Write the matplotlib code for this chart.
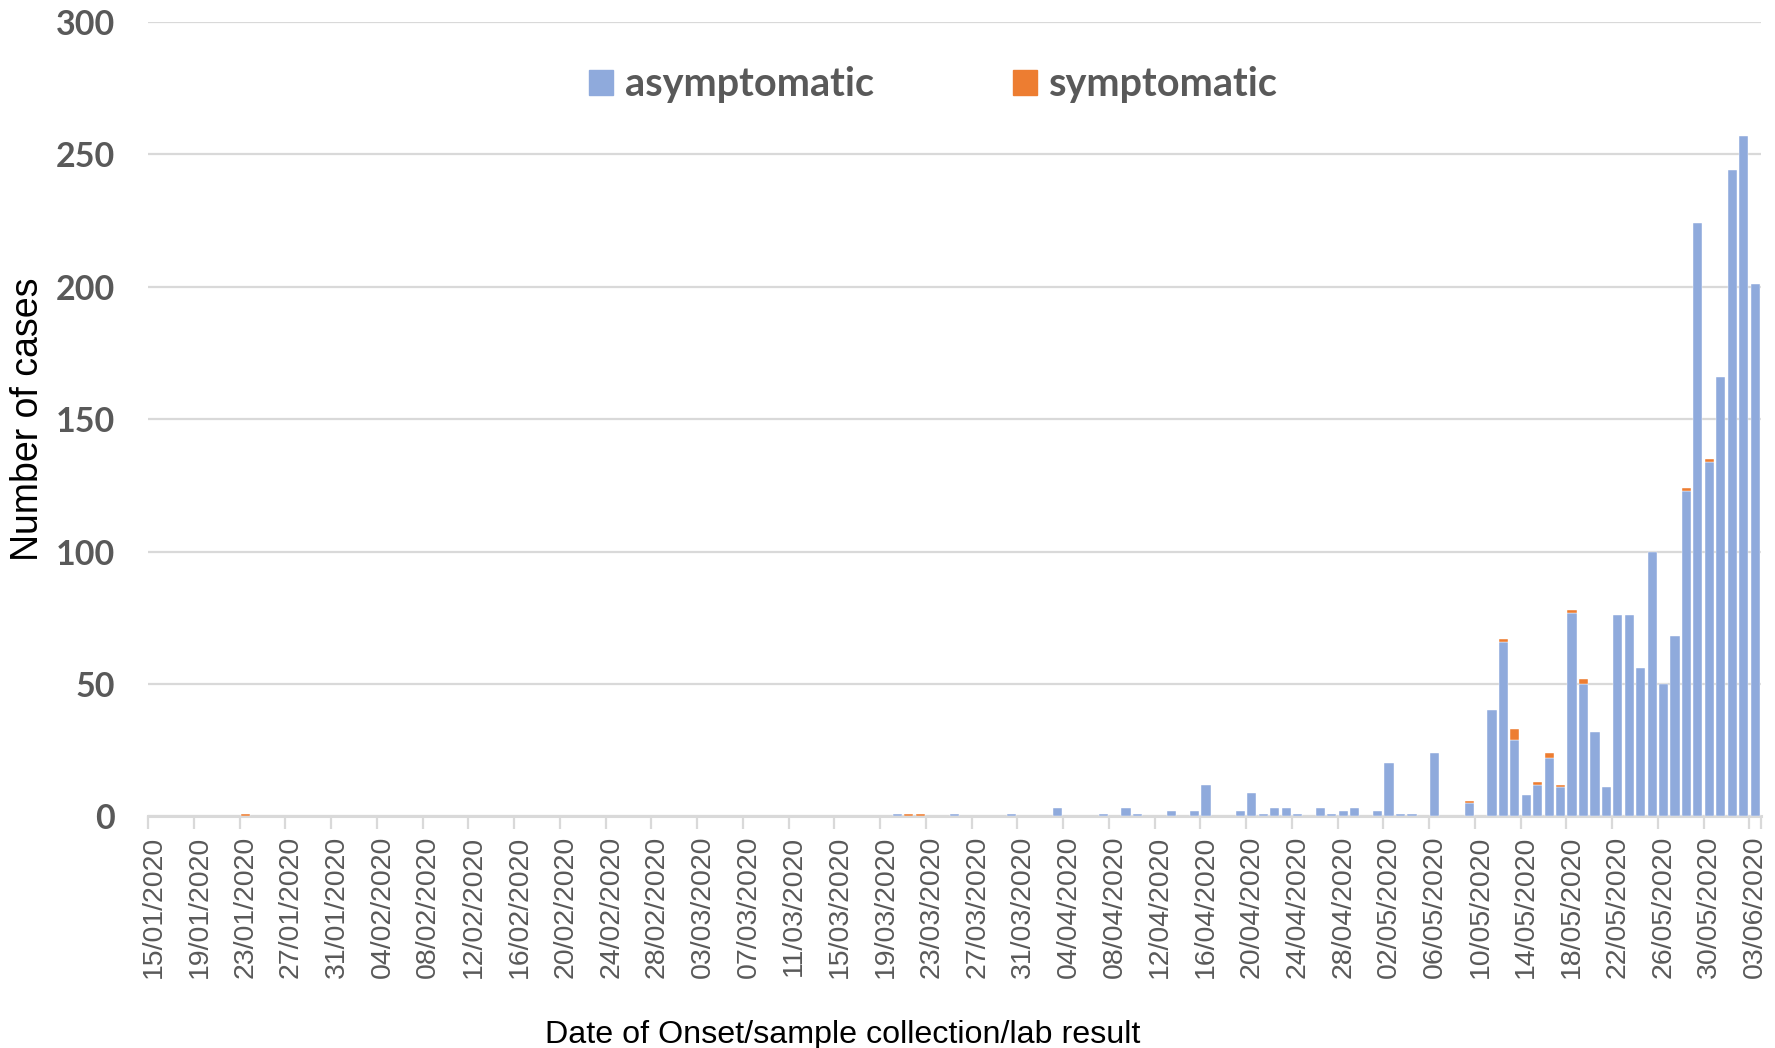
import numpy as np
import pandas as pd
import matplotlib
matplotlib.use('Agg')
import matplotlib.pyplot as plt
from matplotlib.patches import Patch

# one bar per day, 15/01/2020 .. 03/06/2020
dates = pd.date_range('2020-01-15', '2020-06-03', freq='D')

jan_asym = [0, 0, 0, 0, 0, 0, 0, 0, 0, 0, 0, 0, 0, 0, 0, 0, 0]
jan_sym  = [0, 0, 0, 0, 0, 0, 0, 0, 1, 0, 0, 0, 0, 0, 0, 0, 0]
feb_asym = [0, 0, 0, 0, 0, 0, 0, 0, 0, 0, 0, 0, 0, 0, 0, 0, 0, 0, 0, 0,
            0, 0, 0, 0, 0, 0, 0, 0, 0]
feb_sym  = [0, 0, 0, 0, 0, 0, 0, 0, 0, 0, 0, 0, 0, 0, 0, 0, 0, 0, 0, 0,
            0, 0, 0, 0, 0, 0, 0, 0, 0]
mar_asym = [0, 0, 0, 0, 0, 0, 0, 0, 0, 0, 0, 0, 0, 0, 0, 0, 0, 0, 0, 1,
            0, 0, 0, 0, 1, 0, 0, 0, 0, 1, 0]
mar_sym  = [0, 0, 0, 0, 0, 0, 0, 0, 0, 0, 0, 0, 0, 0, 0, 0, 0, 0, 0, 0,
            1, 1, 0, 0, 0, 0, 0, 0, 0, 0, 0]
apr_asym = [0, 0, 3, 0, 0, 0, 1, 0, 3, 1, 0, 0, 2, 0, 2, 12, 0, 0, 2, 9,
            1, 3, 3, 1, 0, 3, 1, 2, 3, 0]
apr_sym  = [0, 0, 0, 0, 0, 0, 0, 0, 0, 0, 0, 0, 0, 0, 0, 0, 0, 0, 0, 0,
            0, 0, 0, 0, 0, 0, 0, 0, 0, 0]
may_asym = [2, 20, 1, 1, 0, 24, 0, 0, 5, 0, 40, 66, 29, 8, 12, 22, 11, 77, 50, 32,
            11, 76, 76, 56, 100, 50, 68, 123, 224, 134, 166]
may_sym  = [0, 0, 0, 0, 0, 0, 0, 0, 1, 0, 0, 1, 4, 0, 1, 2, 1, 1, 2, 0,
            0, 0, 0, 0, 0, 0, 0, 1, 0, 1, 0]
jun_asym = [244, 257, 201]
jun_sym  = [0, 0, 0]

asym = np.array(jan_asym + feb_asym + mar_asym + apr_asym + may_asym + jun_asym)
sym = np.array(jan_sym + feb_sym + mar_sym + apr_sym + may_sym + jun_sym)

blue = '#8FAADC'
orange = '#ED7D31'
grey_txt = '#595959'
grey_line = '#D9D9D9'

fig = plt.figure(figsize=(17.75, 10.48), dpi=100)
ax = fig.add_axes([0.0834, 0.221, 0.9086, 0.758])

x = np.arange(len(dates))
# thin white outline only on bars that are actually there
ax.bar(x, asym, width=0.8, color=blue, edgecolor='white',
       linewidth=np.where(asym > 0, 0.3, 0), zorder=3)
ax.bar(x, sym, width=0.8, bottom=asym, color=orange, edgecolor='white',
       linewidth=np.where(sym > 0, 0.3, 0), zorder=3)

ax.set_xlim(-0.5, len(dates) - 0.5)
ax.set_ylim(0, 300)
ax.set_yticks(range(0, 301, 50))
ax.yaxis.grid(True, color=grey_line, lw=1.6)
ax.set_axisbelow(True)

for s in ['top', 'right', 'left']:
    ax.spines[s].set_visible(False)
ax.spines['bottom'].set_color(grey_line)
ax.spines['bottom'].set_linewidth(2.2)
ax.spines['bottom'].set_zorder(2)

ax.tick_params(axis='y', length=0, pad=24)
for t in ax.get_yticklabels():
    t.set_fontfamily('Lato')
    t.set_fontweight('bold')
    t.set_fontsize(24.5)
    t.set_color(grey_txt)

# labels every 4 days, tick marks on the category boundaries
ax.set_xticks(x[::4])
ax.set_xticklabels(dates[::4].strftime('%d/%m/%Y'), rotation=90,
                   fontfamily='Liberation Sans', fontsize=20.5, color=grey_txt)
ax.set_xticks(np.append(x[::4] - 0.5, len(dates) - 0.5), minor=True)
ax.tick_params(axis='x', which='major', length=0, pad=14)
ax.tick_params(axis='x', which='minor', length=9, width=1.6, color=grey_line)

fig.text(0.016, 0.60, 'Number of cases', rotation=90, ha='center', va='center',
         fontfamily='Liberation Sans', fontsize=27, color='black')
fig.text(0.475, 0.012, 'Date of Onset/sample collection/lab result', ha='center', va='center',
         fontfamily='Liberation Sans', fontsize=23.2, color='black')

handles = [Patch(color=blue, label='asymptomatic'), Patch(color=orange, label='symptomatic')]
leg = fig.legend(handles=handles, loc='center', bbox_to_anchor=(0.526, 0.919), ncol=2,
                 frameon=False, prop={'family': 'Lato', 'weight': 'bold', 'size': 28.5},
                 handlelength=0.6, handleheight=0.6, handletextpad=0.32, columnspacing=3.5)
for t in leg.get_texts():
    t.set_color(grey_txt)

plt.savefig('out.png', dpi=100)
